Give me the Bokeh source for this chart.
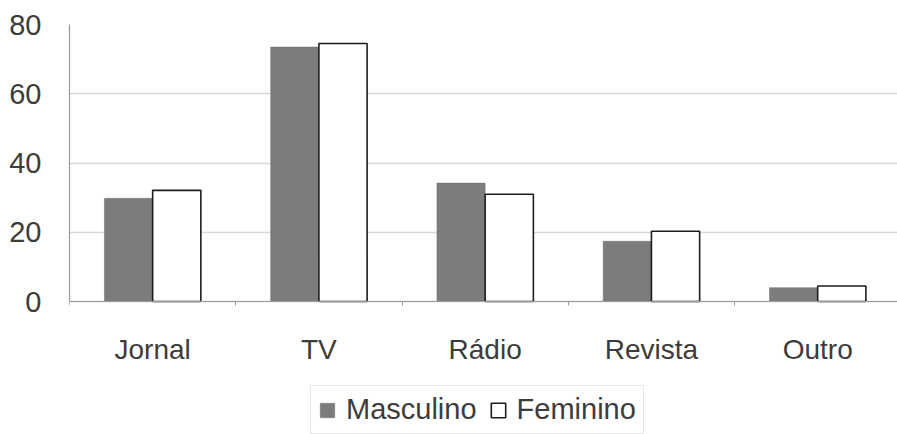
import numpy as np
from bokeh.plotting import figure
from bokeh.models import (ColumnDataSource, Range1d, FixedTicker, Legend,
                          LegendItem)
from bokeh.embed import file_html
from bokeh.resources import INLINE

# Preferred media by gender (%)
categories = ["Jornal", "TV", "Rádio", "Revista", "Outro"]
masculino = [29.8, 73.5, 34.2, 17.4, 4.0]
feminino = [32.1, 74.5, 31.0, 20.3, 4.5]
series_names = ["Masculino", "Feminino"]
y_ticks = [0, 20, 40, 60, 80]

FONT = "Liberation Sans"
TEXT = "#3c3c3c"
BAR_W = 0.29

idx = np.arange(len(categories)) + 0.5
src = ColumnDataSource(dict(
    x_m=idx - BAR_W / 2,
    x_f=idx + BAR_W / 2,
    masc=masculino,
    fem=feminino,
))

# the frame runs down to the page bottom so the legend can sit inside it;
# the x axis is pinned at y = 0
p = figure(width=897, height=434, output_backend="svg", toolbar_location=None,
           x_range=Range1d(0, 4.98), y_range=Range1d(-38.4, 80),
           min_border_left=69, min_border_right=0, min_border_top=24,
           min_border_bottom=0)
p.outline_line_color = None
p.background_fill_color = "white"
p.border_fill_color = "white"

r_m = p.vbar(x="x_m", top="masc", width=BAR_W, source=src,
             fill_color="#7c7c7c", line_color="#707070", line_width=0.5)
r_f = p.vbar(x="x_f", top="fem", width=BAR_W, source=src,
             fill_color="white", line_color="#1e1e1e", line_width=1.6)

# x axis: labels at category centres, small ticks on the boundaries
p.xaxis.fixed_location = 0
p.xaxis.ticker = FixedTicker(ticks=list(idx),
                             minor_ticks=list(range(len(categories) + 1)))
p.xaxis.major_label_overrides = {float(v): c for v, c in zip(idx, categories)}
p.xaxis.major_tick_line_color = None
p.xaxis.minor_tick_line_color = "#9a9a9a"
p.xaxis.minor_tick_out = 4
p.xaxis.minor_tick_in = 0
p.xaxis.axis_line_color = "#9a9a9a"
p.xaxis.axis_line_width = 1.2
p.xaxis.major_label_standoff = 26
p.xaxis.major_label_text_font = FONT
p.xaxis.major_label_text_font_size = "28px"
p.xaxis.major_label_text_color = TEXT

p.yaxis.ticker = FixedTicker(ticks=y_ticks)
p.yaxis.bounds = (0, 80)
p.yaxis.major_tick_line_color = None
p.yaxis.minor_tick_line_color = None
p.yaxis.axis_line_color = "#9a9a9a"
p.yaxis.axis_line_width = 1.2
p.yaxis.major_label_standoff = 22
p.yaxis.major_label_text_font = FONT
p.yaxis.major_label_text_font_size = "29px"
p.yaxis.major_label_text_color = TEXT

p.xgrid.grid_line_color = None
p.ygrid.grid_line_color = "#d8d8d8"
p.ygrid.grid_line_width = 1.5

legend = Legend(items=[LegendItem(label=series_names[0], renderers=[r_m]),
                       LegendItem(label=series_names[1], renderers=[r_f])],
                orientation="horizontal", location=(241, 0),
                glyph_width=18, glyph_height=18, label_standoff=10,
                spacing=12, padding=7, margin=0,
                border_line_color="#cfcfcf", border_line_width=1.2,
                label_text_font=FONT, label_text_font_size="29px",
                label_text_color=TEXT, background_fill_alpha=1.0)
p.add_layout(legend, "center")

open("out.html", "w").write(file_html(p, INLINE))
